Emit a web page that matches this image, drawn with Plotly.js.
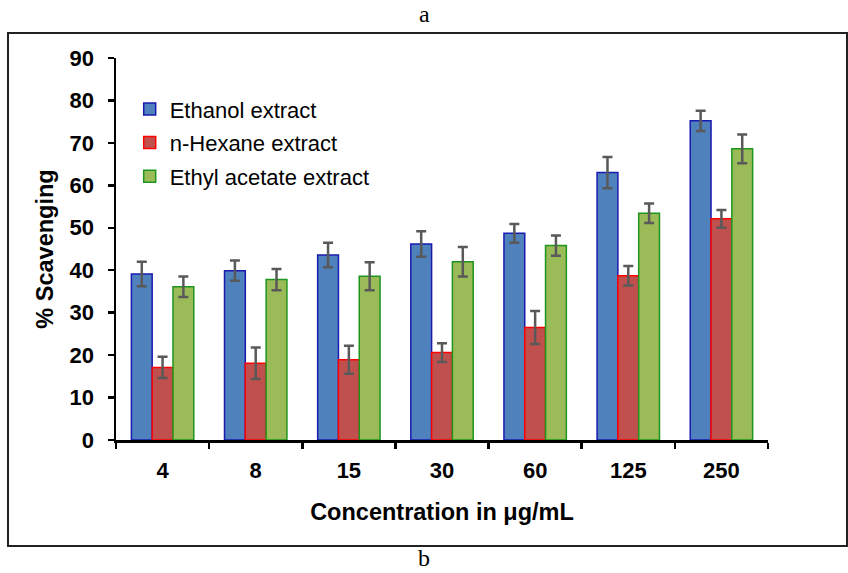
<!DOCTYPE html>
<html>
<head>
<meta charset="utf-8">
<script src="https://cdn.plot.ly/plotly-3.0.1.min.js"></script>
<style>
html,body{margin:0;padding:0;background:#fff;}
#chart{width:848px;height:573px;}
</style>
</head>
<body>
<div id="chart"></div>
<script>
var categories = ["4", "8", "15", "30", "60", "125", "250"];
var seriesNames = ["Ethanol extract", "n-Hexane extract", "Ethyl acetate extract"];
var ethanol = [39.1, 39.9, 43.6, 46.2, 48.7, 63.0, 75.2];
var ethanolErr = [2.9, 2.4, 2.9, 3.0, 2.2, 3.7, 2.4];
var hexane = [17.1, 18.1, 18.9, 20.6, 26.5, 38.7, 52.1];
var hexaneErr = [2.5, 3.7, 3.3, 2.2, 3.9, 2.3, 2.1];
var ethylAcetate = [36.1, 37.8, 38.6, 42.0, 45.8, 53.4, 68.6];
var ethylAcetateErr = [2.4, 2.5, 3.3, 3.5, 2.4, 2.3, 3.4];

var fills = ["#4F81BD", "#C0504D", "#9BBB59"];
var outlines = ["#1A1AB0", "#FF0000", "#1E961E"];
var vals = [ethanol, hexane, ethylAcetate];
var errs = [ethanolErr, hexaneErr, ethylAcetateErr];

var traces = vals.map(function (v, i) {
  return {
    type: "bar",
    name: seriesNames[i],
    legendgroup: "g" + i,
    x: categories,
    y: v,
    marker: {color: fills[i], line: {color: outlines[i], width: 1.5}},
    error_y: {type: "data", array: errs[i], visible: true, color: "#595959", thickness: 2.5, width: 5}
  };
});

var layout = {
  width: 848, height: 573, autosize: false,
  margin: {l: 116, r: 80, t: 58, b: 133},
  paper_bgcolor: "#fff", plot_bgcolor: "#fff",
  barmode: "group", bargap: 0.33, bargroupgap: 0,
  font: {family: "Liberation Sans, Arial, sans-serif", color: "#000"},
  showlegend: true,
  legend: {x: 0.021, y: 0.921, xanchor: "left", yanchor: "top", bgcolor: "rgba(0,0,0,0)",
           traceorder: "grouped", tracegroupgap: 2,
           font: {size: 22, family: "Liberation Sans, Arial, sans-serif"}},
  xaxis: {
    type: "category",
    showline: true, linecolor: "#000", linewidth: 2.5,
    ticks: "outside", tickson: "boundaries", ticklen: 6, tickwidth: 2.5, tickcolor: "#000",
    tickfont: {size: 22, family: "Liberation Sans, Arial, sans-serif", weight: "bold"},
    ticklabelstandoff: 9,
    showgrid: false, zeroline: false,
    title: {text: "<b>Concentration in μg/mL</b>", font: {size: 23.5}, standoff: 22}
  },
  yaxis: {
    range: [0, 90], dtick: 10,
    showline: true, linecolor: "#000", linewidth: 2.5,
    ticks: "outside", ticklen: 6, tickwidth: 2.5, tickcolor: "#000",
    tickfont: {size: 22, family: "Liberation Sans, Arial, sans-serif", weight: "bold"},
    ticklabelstandoff: 9,
    showgrid: false, zeroline: false,
    title: {text: "<b>% Scavenging</b>", font: {size: 23.5}, standoff: 10}
  },
  shapes: [{
    type: "rect", xref: "paper", yref: "paper",
    x0: (8 - 116) / 652, x1: (847 - 116) / 652,
    y0: (440 - 546) / 382, y1: (440 - 33) / 382,
    line: {color: "#222", width: 2}, fillcolor: "rgba(0,0,0,0)", layer: "below"
  }],
  annotations: [
    {text: "a", xref: "paper", yref: "paper", x: (424 - 116) / 652, y: (440 - 14) / 382,
     xanchor: "center", yanchor: "middle",
     showarrow: false, font: {family: "Liberation Serif, Times New Roman, serif", size: 24, color: "#000"}},
    {text: "b", xref: "paper", yref: "paper", x: (424 - 116) / 652, y: (440 - 558) / 382,
     xanchor: "center", yanchor: "middle",
     showarrow: false, font: {family: "Liberation Serif, Times New Roman, serif", size: 24, color: "#000"}}
  ]
};

Plotly.newPlot("chart", traces, layout, {displayModeBar: false, staticPlot: true});
</script>
</body>
</html>
